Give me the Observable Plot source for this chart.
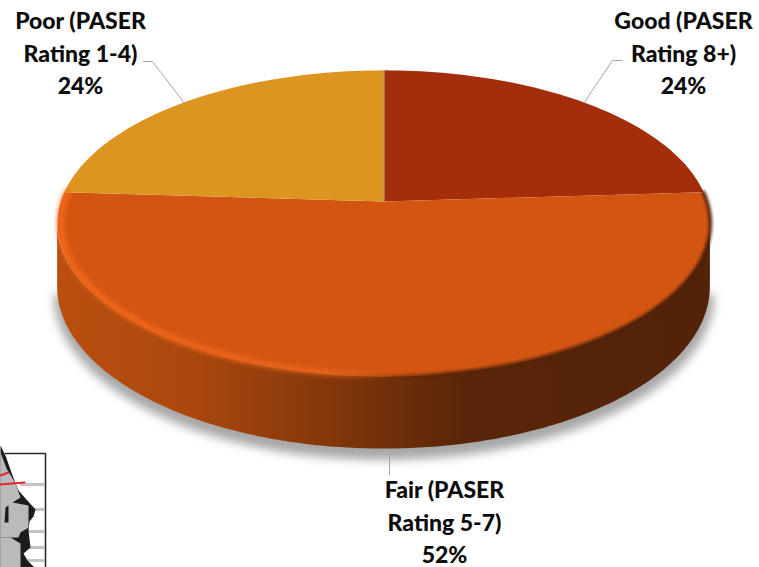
<!DOCTYPE html>
<html>
<head>
<meta charset="utf-8">
<style>html,body{margin:0;padding:0;background:#fff}svg{display:block}</style>
<script src="https://cdn.jsdelivr.net/npm/d3@7"></script>
<script src="https://cdn.jsdelivr.net/npm/@observablehq/plot@0.6"></script>
</head>
<body>
<script>
// Chart data
const categories = ["Good", "Fair", "Poor"];
const shares = [24, 52, 24];
const labels = ["Good (PASER\nRating 8+)\n24%", "Fair (PASER\nRating 5-7)\n52%", "Poor (PASER\nRating 1-4)\n24%"];
const colors = ["#a42d0b", "#d35512", "#dd9522"];

// Layout of the tilted pie, in picture units
const cx = 383.5, cy = 201, R = 323, B = 150, K = 0.1437, D = 62;
const project = (turn, r = 1, depth = 0) => {
  const t = turn * 2 * Math.PI, u = r * Math.sin(t), v = r * Math.cos(t), s = 1 / (1 + K * v);
  return {x: cx + R * u * s, y: cy - B * v * s + depth * s};
};
const cum = d3.cumsum(shares).map((d) => d / d3.sum(shares));
const starts = [0, ...cum.slice(0, -1)];

const sliceRows = categories.flatMap((c, i) => {
  const n = Math.ceil((cum[i] - starts[i]) * 240);
  const arc = d3.range(n + 1).map((j) => project(starts[i] + (cum[i] - starts[i]) * j / n));
  return [{x: cx, y: cy}, ...arc, {x: cx, y: cy}].map((p) => ({...p, c}));
});
const turn0 = Math.acos(-K) / (2 * Math.PI);
const front = d3.range(241).map((j) => turn0 + (1 - 2 * turn0) * j / 240);
const sideRows = front.map((t) => ({x: project(t).x, y1: project(t).y, y2: project(t, 1, D).y}));
const fairArc = d3.range(241).map((j) => starts[1] + (cum[1] - starts[1]) * j / 240);
const glowRows = fairArc.map((t) => project(t, 0.991));
const edgeRows = fairArc.map((t) => project(t, 1));
const shadowRows = front.map((t) => project(t, 1.012, D + 7));

// Leaders run from each slice's middle out to its label
const mid = (i) => project((starts[i] + cum[i]) / 2);
const labelLayout = [{x: 683, y: 51}, {x: 444, y: 520}, {x: 80, y: 51}];
const leaders = [
  [mid(0), {x: 612, y: 60}, {x: 622, y: 60}],
  [{x: 389, y: 452}, {x: 389, y: 474}],
  [mid(2), {x: 152, y: 61}, {x: 143, y: 61}]
].flatMap((pts, i) => pts.map((p) => ({...p, i})));

// Corner logo fragment
const logoFrame = [{x: 5, y: 453}, {x: 45, y: 453}, {x: 45, y: 567}];
const logoRuleYs = [484, 509, 531, 547, 560];
const logoShapes = [
  ["#1d1b1c", [[0,445],[5,455],[12,475],[18,490],[25,498],[35,509],[33,516],[29,521],[28,530],[30,547],[23,553],[27,560],[34,567],[0,567]]],
  ["#b9babc", [[0,452],[6,468],[15,483],[20,497],[12,502],[28,505],[28,527],[20,532],[18,537],[0,537]]],
  ["#b9babc", [[10,537],[20,543],[20,567],[0,567],[0,537]]],
  ["#1d1b1c", [[5,507],[8,505],[8,522],[4,522]]]
].flatMap(([fill, pts], k) => pts.map(([x, y]) => ({x, y, k, fill})));
const logoRed = [[{x: 0, y: 475, k: 0}, {x: 8, y: 472, k: 0}], [{x: 0, y: 484, k: 1}, {x: 24, y: 482, k: 1}]].flat();

const defs = () => {
  const d = d3.create("svg:defs");
  const grad = (id, stops) => {
    const g = d.append("linearGradient").attr("id", id).attr("x1", 0).attr("x2", 1).attr("y1", 0).attr("y2", 0);
    stops.forEach(([o, c, a]) => g.append("stop").attr("offset", o).attr("stop-color", c).attr("stop-opacity", a));
  };
  grad("side", [[0, "#ba4f0f", 1], [0.2, "#ab480e", 1], [0.45, "#7d340a", 1], [0.62, "#5a2609", 1], [1, "#522209", 1]]);
  grad("glow", [[0, "#f6691a", 1], [0.25, "#f2681c", 0.95], [0.42, "#ea6a22", 0.75], [0.52, "#ee6a20", 0], [1, "#ee6a20", 0]]);
  grad("edge", [[0, "#5a2609", 0], [0.42, "#6a2c0a", 0], [0.6, "#5a2609", 1], [1, "#4f2109", 1]]);
  return d.node();
};

document.body.append(Plot.plot({
  width: 759, height: 567, margin: 0,
  x: {domain: [0, 759], range: [0, 759], axis: null},
  y: {domain: [0, 567], range: [0, 567], axis: null},
  color: {domain: categories, range: colors},
  marks: [
    defs,
    Plot.ruleY(logoRuleYs, {x1: 20, x2: 44, stroke: "#c4c4c4", strokeWidth: 3}),
    Plot.line(logoFrame, {x: "x", y: "y", stroke: "#2b2b2b", strokeWidth: 1.6}),
    Plot.line(logoShapes, {x: "x", y: "y", z: "k", fill: "fill", stroke: null}),
    Plot.line(logoRed, {x: "x", y: "y", z: "k", stroke: "#e8252f", strokeWidth: 2}),
    Plot.line(shadowRows, {x: "x", y: "y", fill: "#a8a8a8", stroke: null, imageFilter: "blur(5px)"}),
    Plot.areaY(sideRows, {x: "x", y1: "y1", y2: "y2", fill: "url(#side)"}),
    Plot.line(sliceRows, {x: "x", y: "y", z: "c", fill: "c", stroke: null}),
    Plot.line(edgeRows, {x: "x", y: "y", stroke: "url(#edge)", strokeWidth: 3.5, imageFilter: "blur(1.8px)"}),
    Plot.line(glowRows, {x: "x", y: "y", stroke: "url(#glow)", strokeWidth: 6, imageFilter: "blur(2.4px)"}),
    Plot.line([project(0), {x: cx, y: cy}], {x: "x", y: "y", stroke: "#ab9a7c", strokeWidth: 1.3}),
    Plot.line(leaders, {x: "x", y: "y", z: "i", stroke: "#a6a6a6", strokeWidth: 1}),
    Plot.text(labels, {
      x: (d, i) => labelLayout[i].x, y: (d, i) => labelLayout[i].y,
      text: (d) => d, fontFamily: "Lato", fontWeight: 900, fontSize: 23, lineHeight: 1.41,
      fill: "#0c0c0c", textAnchor: "middle"
    })
  ]
}));
</script>
</body>
</html>
